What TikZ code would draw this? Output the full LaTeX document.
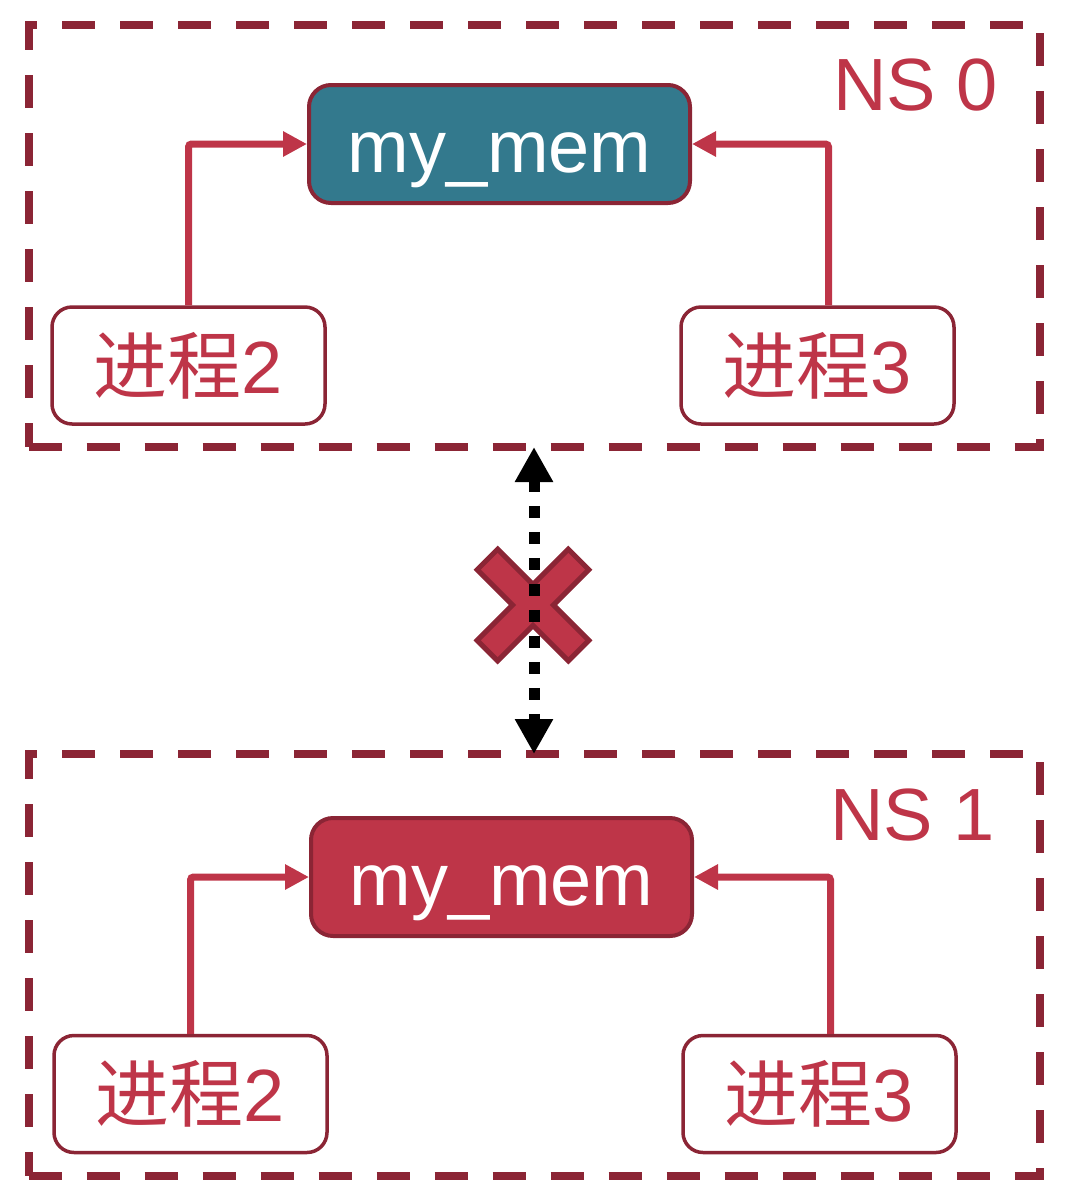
\documentclass[tikz,border=0pt]{standalone}
\usepackage{fontspec}
\setmainfont{Liberation Sans}
\newfontfamily\cjkfont{Noto Sans CJK SC}
\usetikzlibrary{arrows.meta, positioning}
\definecolor{nsred}{HTML}{8B2535}
\definecolor{linkred}{HTML}{BE3548}
\definecolor{memteal}{HTML}{33798D}

\begin{document}
\begin{tikzpicture}[x=1pt, y=-1pt]
    \tikzstyle{nsbox} = [rectangle, draw=nsred, line width=8pt, dash pattern=on 33pt off 25pt, outer sep=0pt, minimum width=1011pt, minimum height=422pt]
    \tikzstyle{mem} = [rectangle, draw=nsred, line width=4pt, rounded corners=22pt, minimum width=381pt, minimum height=118pt, text height=56pt, text depth=0pt, text=white, font=\fontsize{74pt}{80pt}\selectfont]
    \tikzstyle{proc} = [rectangle, draw=nsred, fill=white, line width=3.5pt, rounded corners=20pt, minimum width=273pt, minimum height=117pt, text=linkred, font=\fontsize{74pt}{80pt}\selectfont]
    \tikzstyle{nslabel} = [anchor=east, text=linkred, inner sep=0pt, font=\fontsize{74pt}{80pt}\selectfont]
    \tikzstyle{link} = [line width=7pt, draw=linkred, rounded corners=3pt, -{Triangle[length=24pt, width=24pt]}]
    \tikzstyle{blocked} = [line width=11pt, dash pattern=on 12pt off 14pt, {Triangle[length=35pt, width=36pt]}-{Triangle[length=35pt, width=36pt]}]

    \useasboundingbox (0,0) rectangle (1068,1195);

    % namespaces
    \node [nsbox] (ns0) at (534,236) {};
    \node [nsbox, below=307pt of ns0] (ns1) {};
    \node [nslabel] (lbl0) at (998,85) {NS 0};
    \node [nslabel] (lbl1) at (995,815) {NS 1};

    % NS 0
    \node [mem, fill=memteal] (mem0) at (499.5,144) {my\_mem};
    \node [proc] (p2a) at (188.5,365.5) {{\cjkfont 进程}2};
    \node [proc] (p3a) at (817.5,365.5) {{\cjkfont 进程}3};

    % NS 1
    \node [mem, fill=linkred] (mem1) at (501.5,877) {my\_mem};
    \node [proc] (p2b) at (190.5,1094) {{\cjkfont 进程}2};
    \node [proc] (p3b) at (819.5,1094) {{\cjkfont 进程}3};

    \draw [link] (p2a.north) |- (mem0.west);
    \draw [link] ([xshift=11pt]p3a.north) |- (mem0.east);
    \draw [link] (p2b.north) |- (mem1.west);
    \draw [link] ([xshift=11pt]p3b.north) |- (mem1.east);

    % cross
    \begin{scope}[shift={(533,605)}, rotate=45]
        \draw [fill=linkred, draw=nsred, line width=5pt, line join=miter]
            (14.5,14.5) -- (64.5,14.5) -- (64.5,-14.5) -- (14.5,-14.5) -- (14.5,-64.5) -- (-14.5,-64.5)
            -- (-14.5,-14.5) -- (-64.5,-14.5) -- (-64.5,14.5) -- (-14.5,14.5) -- (-14.5,64.5) -- (14.5,64.5) -- cycle;
    \end{scope}
    \draw [blocked] (ns0.south) -- (ns1.north);
\end{tikzpicture}
\end{document}
